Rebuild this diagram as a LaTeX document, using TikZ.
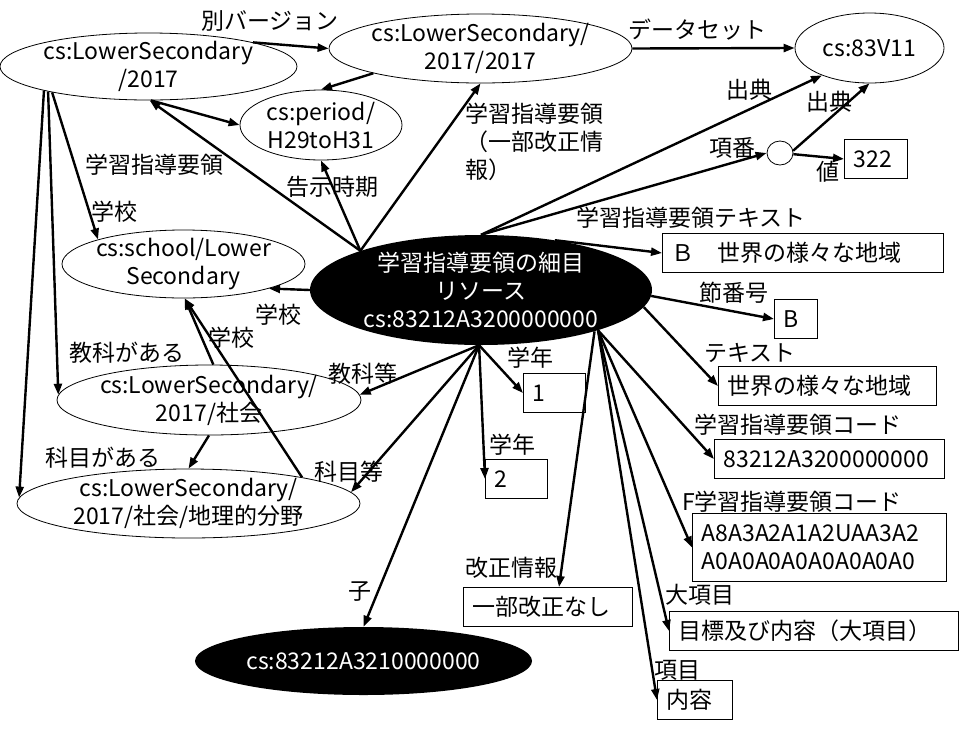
\documentclass[tikz,border=0pt]{standalone}
\usepackage{fontspec}
\setmainfont{Noto Sans CJK JP}
\usetikzlibrary{shapes.geometric,arrows.meta}

\tikzset{
  res/.style={ellipse, draw, line width=0.8pt, align=center, inner sep=-10pt},
  blackres/.style={ellipse, fill=black, text=white, align=center, inner sep=-10pt},
  valbox/.style={draw, line width=1pt, align=left, inner xsep=9pt, inner ysep=0pt,
    minimum height=39pt, anchor=north west},
  rel/.style={line width=2.4pt, -{Triangle[length=11pt,width=8pt]}},
  edgelbl/.style={inner sep=0pt},
}

\begin{document}
\begin{tikzpicture}[x=1pt,y=-1pt,font=\fontsize{23}{28}\selectfont]
\useasboundingbox (0,0) rectangle (972,729);

% resources
\node[res, minimum width=297pt, minimum height=67pt] (ls2017) at (148.5,66.5) {cs:LowerSecondary\\/2017};
\node[res, minimum width=303pt, minimum height=69pt] (ls2017b) at (480.5,48.5) {cs:LowerSecondary/\\2017/2017};
\node[res, minimum width=162pt, minimum height=70pt] (period) at (321,125) {cs:period/\\H29toH31};
\node[res, minimum width=149pt, minimum height=70pt] (v83) at (869.5,48) {cs:83V11};
\node[res, minimum width=26pt, minimum height=24pt] (blank) at (780,153) {};
\node[res, minimum width=243pt, minimum height=68pt] (school) at (183.5,264) {cs:school/Lower\\Secondary};
\node[blackres, minimum width=342pt, minimum height=110pt] (item) at (481,290) {学習指導要領の細目\\リソース\\cs:83212A3200000000};
\node[res, minimum width=304pt, minimum height=70pt] (shakai) at (209,400) {cs:LowerSecondary/\\2017/社会};
\node[res, minimum width=343pt, minimum height=69pt] (chiri) at (188.5,503.5) {cs:LowerSecondary/\\2017/社会/地理的分野};
\node[blackres, minimum width=337pt, minimum height=68pt] (child) at (363.5,661) {cs:83212A3210000000};

% values
\node[valbox, text width=45pt] (v322) at (844,139) {322};
\node[valbox, text width=263pt] (btext) at (662,233) {Ｂ　世界の様々な地域};
\node[valbox, text width=25pt] (bsec) at (774,299) {B};
\node[valbox, text width=200pt] (btext2) at (718,366) {世界の様々な地域};
\node[valbox, text width=212pt] (bcode) at (714,439) {83212A3200000000};
\node[valbox, text width=236pt, minimum height=68pt] (bfcode) at (692,513) {A8A3A2A1A2UAA3A2\\A0A0A0A0A0A0A0A0};
\node[valbox, text width=271pt] (blarge) at (669,611) {目標及び内容（大項目）};
\node[valbox, text width=57pt] (bitem) at (657,680) {内容};
\node[valbox, text width=151pt] (brev) at (463,587) {一部改正なし};
\node[valbox, text width=44pt] (bgrade1) at (523,373) {1};
\node[valbox, text width=44pt] (bgrade2) at (485,459) {2};

% labels
\node[edgelbl] (l-ver) at (270,21) {別バージョン};
\node[edgelbl] (l-data) at (697,30) {データセット};
\node[edgelbl] (l-src1) at (749,90) {出典};
\node[edgelbl] (l-src2) at (829,102) {出典};
\node[edgelbl] (l-no) at (732,148) {項番};
\node[edgelbl] (l-val) at (828,172) {値};
\node[edgelbl] (l-cos) at (154,165) {学習指導要領};
\node[edgelbl, align=left, anchor=west] (l-rev) at (465,142) {学習指導要領\\（一部改正情\\報）};
\node[edgelbl] (l-time) at (332,187) {告示時期};
\node[edgelbl] (l-sch1) at (114,212) {学校};
\node[edgelbl] (l-text) at (691,218) {学習指導要領テキスト};
\node[edgelbl] (l-sch2) at (278,315) {学校};
\node[edgelbl] (l-sch3) at (231,338) {学校};
\node[edgelbl] (l-subj) at (127,353) {教科がある};
\node[edgelbl] (l-subj2) at (363,374) {教科等};
\node[edgelbl] (l-sec) at (734,293) {節番号};
\node[edgelbl] (l-text2) at (750,353) {テキスト};
\node[edgelbl] (l-gr1) at (530,358) {学年};
\node[edgelbl] (l-gr2) at (512,445) {学年};
\node[edgelbl] (l-crs) at (103,458) {科目がある};
\node[edgelbl] (l-crs2) at (349,472) {科目等};
\node[edgelbl] (l-code) at (798,425) {学習指導要領コード};
\node[edgelbl] (l-fcode) at (792,502) {F学習指導要領コード};
\node[edgelbl] (l-revinfo) at (511,568) {改正情報};
\node[edgelbl] (l-large) at (700,595) {大項目};
\node[edgelbl] (l-child) at (360,592) {子};
\node[edgelbl] (l-item) at (677,670) {項目};

% edges from the 2017 resource
\draw[rel] (ls2017.13) -- (ls2017b.west);
\draw[rel] (ls2017.195) -- (school.164);
\draw[rel] (ls2017.194) -- (shakai.178);
\draw[rel] (ls2017.193) -- (chiri.178);
\draw[rel] (ls2017.-86) -- (period.west);
\draw[rel] (ls2017b.193) -- (period.north);
\draw[rel] (ls2017b.east) -- (v83.west);

% edges from the item resource
\draw[rel] (item.162) -- (ls2017.-88);
\draw[rel] (item.162) -- (period.south);
\draw[rel] (item.162) -- (ls2017b.south);
\draw[rel] (item.north) -- (v83.-150);
\draw[rel] (item.north) -- (blank.west);
\draw[rel] (item.34) -- (btext.west);
\draw[rel] (item.-2) -- (bsec.west);
\draw[rel] (item.-6) -- (btext2.west);
\draw[rel] (item.-19) -- (bcode.west);
\draw[rel] (item.-19) -- (bfcode.west);
\draw[rel] (item.-19) -- (blarge.west);
\draw[rel] (item.-19) -- (bitem.west);
\draw[rel] (item.-20) -- ([xshift=11pt]brev.north);
\draw[rel] (item.180) -- (school.-16);
\draw[rel] (item.-92) -- (shakai.2);
\draw[rel] (item.-92) -- (chiri.4);
\draw[rel] (item.-92) -- (child.north);
\draw[rel] (item.-92) -- (bgrade1.west);
\draw[rel] (item.-92) -- (bgrade2.west);

% blank node, subjects
\draw[rel] (blank.10) -- (v83.south);
\draw[rel] (blank.-5) -- (v322.west);
\draw[rel] (shakai.83) -- (school.-88);
\draw[rel] (chiri.13) -- (school.-88);
\draw[rel] (shakai.south) -- (chiri.north);
\end{tikzpicture}
\end{document}
